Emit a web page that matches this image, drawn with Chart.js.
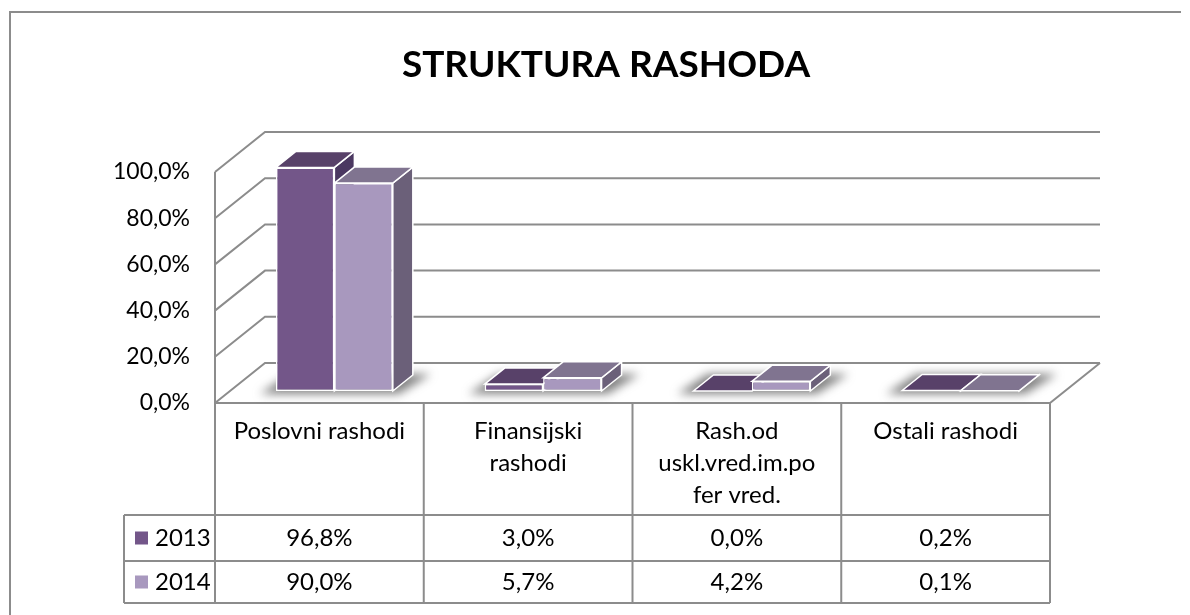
<!DOCTYPE html>
<html>
<head>
<meta charset="utf-8">
<script src="https://cdn.jsdelivr.net/npm/chart.js@4/dist/chart.umd.min.js"></script>
<style>
  html, body { margin: 0; padding: 0; background: #fff; }
  #wrap { width: 1190px; height: 615px; }
</style>
</head>
<body>
<div id="wrap"><canvas id="grafico" width="1190" height="615"></canvas></div>
<script>
// podaci
const kategorije = [['Poslovni rashodi'], ['Finansijski', 'rashodi'], ['Rash.od', 'uskl.vred.im.po', 'fer vred.'], ['Ostali rashodi']];
const godine = ['2013', '2014'];
const rashodi2013 = [96.8, 3.0, 0.0, 0.2];
const rashodi2014 = [90.0, 5.7, 4.2, 0.1];
const podeociY = [0, 20, 40, 60, 80, 100];

const boje = {
    front: ['#735689', '#A898BE'],
    top: ['#584169', '#807490'],
    side: ['#4B3861', '#6B6079']
};

const FONT = 'Lato, "Open Sans", sans-serif';
const GRID = '#8c8c8c';
const zid = { dx: 50, dy: -40 };      // dubina zidova
const pomak = { dx: 15, dy: -12 };    // ravan stubića
const dubina = { dx: 20, dy: -16 };   // dubina stubića

function formatProc(v) {
    return v.toFixed(1).replace('.', ',') + '%';
}

function poly(ctx, pts, fill) {
    ctx.beginPath();
    ctx.moveTo(pts[0][0], pts[0][1]);
    for (let i = 1; i < pts.length; i++) ctx.lineTo(pts[i][0], pts[i][1]);
    ctx.closePath();
    ctx.fillStyle = fill;
    ctx.fill();
    ctx.strokeStyle = '#ffffff';
    ctx.lineWidth = 1.5;
    ctx.stroke();
}

const trodim = {
    id: 'trodim',
    beforeDatasetsDraw(chart) {
        const ctx = chart.ctx;
        const a = chart.chartArea;
        const y = chart.scales.y;

        // zidovi i pod
        ctx.save();
        ctx.strokeStyle = GRID;
        ctx.lineWidth = 2;
        podeociY.forEach(v => {
            const py = y.getPixelForValue(v);
            ctx.beginPath();
            ctx.moveTo(a.left, py);
            ctx.lineTo(a.left + zid.dx, py + zid.dy);
            ctx.lineTo(a.right + zid.dx, py + zid.dy);
            ctx.stroke();
        });
        const y0 = y.getPixelForValue(0);
        ctx.beginPath();
        ctx.moveTo(a.left, y.getPixelForValue(100));
        ctx.lineTo(a.left, y0);
        ctx.lineTo(a.right, y0);
        ctx.lineTo(a.right + zid.dx, y0 + zid.dy);
        ctx.stroke();
        ctx.restore();

        // stubici: senka, gornja i bocna strana
        ctx.save();
        ctx.translate(pomak.dx, pomak.dy);
        const m0 = chart.getDatasetMeta(0).data;
        const m1 = chart.getDatasetMeta(1).data;
        ctx.save();
        ctx.filter = 'blur(5px)';
        ctx.fillStyle = 'rgba(90,90,90,0.75)';
        for (let i = 0; i < m0.length; i++) {
            const l = m0[i].x - m0[i].width / 2;
            const r = m1[i].x + m1[i].width / 2;
            const b = m0[i].base;
            ctx.beginPath();
            ctx.moveTo(l - 16, b + 3);
            ctx.lineTo(r + 6, b + 3);
            ctx.lineTo(r + dubina.dx + 18, b + dubina.dy - 1);
            ctx.lineTo(l + dubina.dx - 6, b + dubina.dy - 1);
            ctx.closePath();
            ctx.fill();
        }
        ctx.restore();
        [m0, m1].forEach((meta, d) => {
            meta.forEach(el => {
                const l = el.x - el.width / 2;
                const r = el.x + el.width / 2;
                const t = el.y;
                const b = el.base;
                poly(ctx, [[r, t], [r + dubina.dx, t + dubina.dy], [r + dubina.dx, b + dubina.dy], [r, b]], boje.side[d]);
                poly(ctx, [[l, t], [l + dubina.dx, t + dubina.dy], [r + dubina.dx, t + dubina.dy], [r, t]], boje.top[d]);
            });
        });
    },
    afterDatasetsDraw(chart) {
        chart.ctx.restore();
    },
    afterDraw(chart) {
        const ctx = chart.ctx;
        const a = chart.chartArea;
        const n = kategorije.length;
        const w = (a.right - a.left) / n;
        const top = a.bottom;
        const red = [515, 561, 603];
        const legLeft = 124;

        ctx.save();
        ctx.strokeStyle = GRID;
        ctx.lineWidth = 2;
        ctx.beginPath();
        for (let i = 0; i <= n; i++) {
            const x = a.left + i * w;
            ctx.moveTo(x, top);
            ctx.lineTo(x, red[2]);
        }
        red.forEach(ry => {
            ctx.moveTo(legLeft, ry);
            ctx.lineTo(a.right, ry);
        });
        ctx.moveTo(legLeft, red[0]);
        ctx.lineTo(legLeft, red[2]);
        ctx.stroke();

        // okvir
        ctx.beginPath();
        ctx.moveTo(10, 615);
        ctx.lineTo(10, 12);
        ctx.lineTo(1181, 12);
        ctx.stroke();

        ctx.fillStyle = '#000';
        ctx.font = '24px ' + FONT;
        ctx.textAlign = 'center';
        ctx.textBaseline = 'middle';
        kategorije.forEach((lines, i) => {
            const cx = a.left + (i + 0.5) * w;
            lines.forEach((s, k) => ctx.fillText(s, cx, 431 + k * 32));
        });
        [rashodi2013, rashodi2014].forEach((vals, r) => {
            const cy = (red[r] + red[r + 1]) / 2;
            vals.forEach((v, i) => {
                ctx.fillText(formatProc(v), a.left + (i + 0.5) * w, cy);
            });
            ctx.fillStyle = boje.front[r];
            ctx.fillRect(135, cy - 6.5, 13, 13);
            ctx.fillStyle = '#000';
            ctx.textAlign = 'left';
            ctx.fillText(godine[r], 155, cy);
            ctx.textAlign = 'center';
        });
        ctx.restore();
    }
};

const ctx = document.getElementById('grafico').getContext('2d');
const chart = new Chart(ctx, {
    type: 'bar',
    data: {
        labels: kategorije,
        datasets: [{
            label: godine[0],
            data: rashodi2013,
            backgroundColor: boje.front[0],
            borderColor: '#ffffff',
            borderWidth: 1.5,
            borderSkipped: false,
            clip: false
        }, {
            label: godine[1],
            data: rashodi2014,
            backgroundColor: boje.front[1],
            borderColor: '#ffffff',
            borderWidth: 1.5,
            borderSkipped: false,
            clip: false
        }]
    },
    options: {
        responsive: false,
        animation: false,
        devicePixelRatio: 1,
        categoryPercentage: 0.56,
        barPercentage: 1.0,
        layout: { padding: { left: 22, right: 0, top: 0, bottom: 212 } },
        plugins: {
            legend: { display: false },
            tooltip: { enabled: false },
            title: {
                display: true,
                text: 'STRUKTURA RASHODA',
                color: '#000',
                font: { family: FONT, size: 37, weight: 'bold', lineHeight: 1.2 },
                padding: { top: 43, bottom: 84.6 }
            }
        },
        scales: {
            x: { display: false },
            y: {
                min: 0,
                max: 100,
                afterFit: function(scale) { scale.width = 193; },
                grid: { display: false, drawTicks: false },
                border: { display: false },
                ticks: {
                    stepSize: 20,
                    padding: 25,
                    color: '#000',
                    font: { family: FONT, size: 23 },
                    callback: v => formatProc(v)
                }
            },
            desno: {
                position: 'right',
                display: true,
                afterFit: function(scale) { scale.width = 140; },
                grid: { display: false, drawTicks: false },
                border: { display: false },
                ticks: { display: false }
            }
        }
    },
    plugins: [trodim]
});
</script>
</body>
</html>
